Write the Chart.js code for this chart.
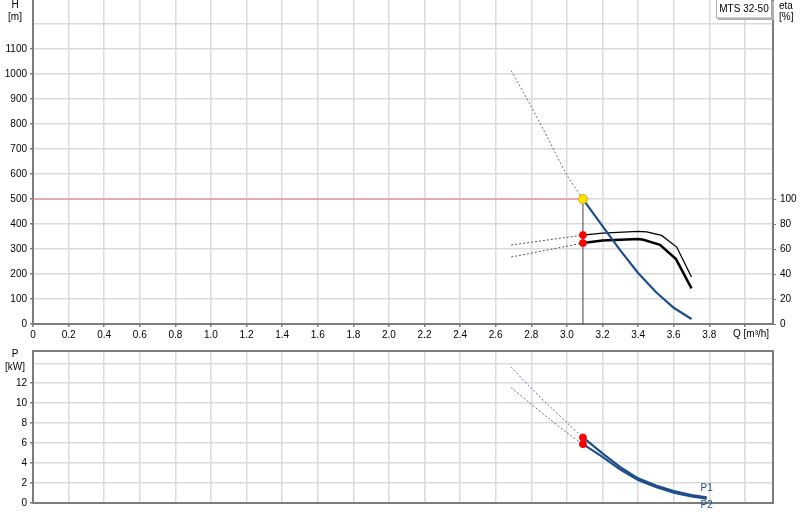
<!DOCTYPE html>
<html>
<head>
<meta charset="utf-8">
<title>MTS 32-50 pump curves</title>
<script src="https://cdn.jsdelivr.net/npm/chart.js@4.4.1/dist/chart.umd.min.js"></script>
<style>
    body { margin: 0; background: #fff; }
    #wrap { position: relative; width: 800px; height: 520px; overflow: hidden; }
    canvas { position: absolute; left: 0; }
    #headChart { top: 0; }
    #powerChart { top: 345px; }
</style>
</head>
<body>
<div id="wrap">
    <canvas id="headChart" width="800" height="345"></canvas>
    <canvas id="powerChart" width="800" height="175"></canvas>
</div>
<script>
// Head curve H(Q), solid part and dotted extension
const headQ = [3.09, 3.2, 3.3, 3.4, 3.5, 3.6, 3.7];
const headM = [500, 392, 295, 204, 128, 65, 20];
const headExtQ = [2.687, 2.8, 2.9, 3.0, 3.09];
const headExtM = [1014, 870, 734, 597, 500];

// Efficiency curves (eta, %)
const eta1Q = [3.09, 3.2, 3.4, 3.448, 3.532, 3.617, 3.7];
const eta1 = [71.2, 72.8, 74.1, 73.8, 70.9, 61.6, 37.6];
const eta2Q = [3.09, 3.2, 3.4, 3.43, 3.523, 3.613, 3.7];
const eta2 = [64.8, 66.9, 68.0, 67.4, 63.4, 52.0, 28.5];
const etaExtQ = [2.687, 3.09];
const eta1Ext = [63.2, 71.2];
const eta2Ext = [53.6, 64.8];

// Power curves P1 / P2 (kW)
const powerQ = [3.09, 3.2, 3.3, 3.4, 3.5, 3.6, 3.7, 3.785];
const p1 = [6.57, 4.97, 3.6, 2.47, 1.75, 1.2, 0.8, 0.57];
const p2 = [5.9, 4.63, 3.35, 2.3, 1.6, 1.03, 0.65, 0.43];
const powerExtQ = [2.687, 2.8, 2.9, 3.0, 3.09];
const p1Ext = [13.6, 11.5, 9.75, 8.05, 6.57];
const p2Ext = [11.57, 9.9, 8.45, 7.05, 5.9];

// Duty point
const dutyQ = 3.09;
const dutyH = 500;
const dutyEta = [71.2, 64.8];
const dutyP = [6.57, 5.9];

// Ticks and their labels ('' = grid line only)
const qTicks = [0, 0.2, 0.4, 0.6, 0.8, 1.0, 1.2, 1.4, 1.6, 1.8, 2.0, 2.2, 2.4, 2.6, 2.8, 3.0, 3.2, 3.4, 3.6, 3.8, 4.0];
const qLabels = ['0', '0.2', '0.4', '0.6', '0.8', '1.0', '1.2', '1.4', '1.6', '1.8', '2.0', '2.2', '2.4', '2.6', '2.8', '3.0', '3.2', '3.4', '3.6', '3.8', ''];
const hTicks = [0, 100, 200, 300, 400, 500, 600, 700, 800, 900, 1000, 1100, 1200];
const hLabels = ['0', '100', '200', '300', '400', '500', '600', '700', '800', '900', '1000', '1100', ''];
const etaTicks = [0, 20, 40, 60, 80, 100];
const etaLabels = ['0', '20', '40', '60', '80', '100'];
const pTicks = [0, 2, 4, 6, 8, 10, 12, 14];
const pLabels = ['0', '2', '4', '6', '8', '10', '12', ''];

// Axis ranges
const qMax = 4.158;
const hMax = 1297;
const etaMax = 259.4;
const pMax = 15.23;

const pumpName = 'MTS 32-50';

const BLUE = '#1d4e89';
const GRID = '#dadada';
const AXIS = '#7c7c7c';
const FONT = "'Liberation Sans', Arial, sans-serif";

Chart.defaults.font.family = FONT;
Chart.defaults.font.size = 10;
Chart.defaults.color = '#000';

// Zip two arrays into {x, y} points
function toPoints(xs, ys) {
    return xs.map((x, i) => ({ x: x, y: ys[i] }));
}

function line(points, color, width, extra) {
    return Object.assign({
        type: 'line',
        data: points,
        borderColor: color,
        borderWidth: width,
        pointRadius: 0,
        fill: false,
        tension: 0
    }, extra || {});
}

function dots(points, fill, border, radius) {
    return {
        type: 'scatter',
        data: points,
        showLine: false,
        pointRadius: radius,
        pointBackgroundColor: fill,
        pointBorderColor: border,
        pointBorderWidth: 1,
        order: 0
    };
}

// Fixed axis size, no automatic label padding
function fixSize(prop, value) {
    return s => {
        s[prop] = value;
        s.paddingTop = 0;
        s.paddingBottom = 0;
        s.paddingLeft = 0;
        s.paddingRight = 0;
    };
}

function useTicks(values) {
    return s => { s.ticks = values.map(v => ({ value: v })); };
}

// Writes unit labels and other loose texts on the canvas
function textPlugin(id, items) {
    return {
        id: id,
        afterDraw(chart) {
            const ctx = chart.ctx;
            ctx.save();
            ctx.font = '10px ' + FONT;
            ctx.textBaseline = 'middle';
            items(chart).forEach(t => {
                ctx.fillStyle = t.color || '#000';
                ctx.textAlign = t.align || 'center';
                ctx.fillText(t.text, t.x, t.y);
            });
            ctx.restore();
        }
    };
}

// Pump name box in the top right corner
const nameBoxPlugin = {
    id: 'nameBox',
    afterDraw(chart) {
        const ctx = chart.ctx;
        ctx.save();
        ctx.fillStyle = '#b0b0b0';
        ctx.fillRect(718, 1, 56, 19);
        ctx.fillStyle = '#fff';
        ctx.fillRect(716, -1, 56, 19);
        ctx.strokeStyle = '#a8a8a8';
        ctx.lineWidth = 1;
        ctx.strokeRect(716.5, -1, 55, 19);
        ctx.fillStyle = '#000';
        ctx.font = '10px ' + FONT;
        ctx.textAlign = 'center';
        ctx.textBaseline = 'middle';
        ctx.fillText(pumpName, 744, 9);
        ctx.restore();
    }
};

// Frame around the power plot
const framePlugin = {
    id: 'frame',
    afterDraw(chart) {
        const a = chart.chartArea;
        const ctx = chart.ctx;
        ctx.save();
        ctx.strokeStyle = AXIS;
        ctx.lineWidth = 2;
        ctx.strokeRect(a.left, a.top, a.right - a.left, a.bottom - a.top);
        ctx.restore();
    }
};

function xAxis(height, showLabels) {
    return {
        type: 'linear',
        min: 0,
        max: qMax,
        afterFit: fixSize('height', height),
        afterBuildTicks: useTicks(qTicks),
        grid: {
            color: GRID,
            lineWidth: 1.5,
            drawTicks: showLabels,
            tickLength: 3,
            tickColor: AXIS
        },
        border: { display: true, color: AXIS, width: 2 },
        ticks: {
            display: showLabels,
            autoSkip: false,
            maxRotation: 0,
            padding: 2,
            callback: (v, i) => qLabels[i]
        }
    };
}

function leftAxis(max, values, labels) {
    return {
        type: 'linear',
        position: 'left',
        min: 0,
        max: max,
        afterFit: fixSize('width', 33),
        afterBuildTicks: useTicks(values),
        grid: {
            color: GRID,
            lineWidth: 1.5,
            tickLength: 3,
            tickColor: c => c.index !== undefined && labels[c.index] === '' ? 'rgba(0,0,0,0)' : AXIS
        },
        border: { display: true, color: AXIS, width: 2 },
        ticks: {
            autoSkip: false,
            padding: 3,
            callback: (v, i) => labels[i]
        }
    };
}

function createHeadChart() {
    const ctx = document.getElementById('headChart').getContext('2d');
    return new Chart(ctx, {
        data: {
            datasets: [
                dots([{ x: dutyQ, y: dutyH }], '#ffe600', '#f2a000', 4.5),
                Object.assign(dots(toPoints([dutyQ, dutyQ], dutyEta), '#ff0000', '#ff0000', 3.5), { yAxisID: 'eta' }),
                line(toPoints(headQ, headM), BLUE, 2.2, { order: 1 }),
                line(toPoints(eta1Q, eta1), '#000', 1.3, { yAxisID: 'eta', order: 1 }),
                line(toPoints(eta2Q, eta2), '#000', 2.5, { yAxisID: 'eta', order: 1 }),
                line(toPoints(headExtQ, headExtM), '#5b6f8f', 1, { borderDash: [2, 2], tension: 0.3, order: 2 }),
                line(toPoints(etaExtQ, eta1Ext), '#555', 1, { borderDash: [2, 2], yAxisID: 'eta', order: 2 }),
                line(toPoints(etaExtQ, eta2Ext), '#555', 1, { borderDash: [2, 2], yAxisID: 'eta', order: 2 }),
                // duty point guide lines
                line(toPoints([0, dutyQ], [dutyH, dutyH]), '#e87a7a', 1, { order: 3 }),
                line(toPoints([dutyQ, dutyQ], [0, dutyH]), '#444', 1, { order: 3 })
            ]
        },
        options: {
            responsive: false,
            animation: false,
            events: [],
            layout: { padding: 0, autoPadding: false },
            plugins: { legend: { display: false }, tooltip: { enabled: false } },
            scales: {
                x: xAxis(21, true),
                y: leftAxis(hMax, hTicks, hLabels),
                eta: {
                    type: 'linear',
                    position: 'right',
                    min: 0,
                    max: etaMax,
                    afterFit: fixSize('width', 27),
                    afterBuildTicks: useTicks(etaTicks),
                    grid: {
                        drawOnChartArea: false,
                        tickLength: 3,
                        tickColor: AXIS
                    },
                    border: { display: true, color: AXIS, width: 2 },
                    ticks: {
                        autoSkip: false,
                        padding: 4,
                        callback: (v, i) => etaLabels[i]
                    }
                }
            }
        },
        plugins: [
            nameBoxPlugin,
            textPlugin('headTexts', () => [
                { text: 'H', x: 15, y: 5 },
                { text: '[m]', x: 15, y: 17 },
                { text: 'eta', x: 779, y: 6, align: 'left' },
                { text: '[%]', x: 779, y: 17, align: 'left' },
                { text: 'Q [m\u00b3/h]', x: 733, y: 334, align: 'left' }
            ])
        ]
    });
}

function createPowerChart() {
    const ctx = document.getElementById('powerChart').getContext('2d');
    return new Chart(ctx, {
        data: {
            datasets: [
                dots(toPoints([dutyQ, dutyQ], dutyP), '#ff0000', '#ff0000', 3.5),
                line(toPoints(powerQ, p1), BLUE, 2.2, { order: 1 }),
                line(toPoints(powerQ, p2), BLUE, 2.2, { order: 1 }),
                line(toPoints(powerExtQ, p1Ext), '#5b6f8f', 1, { borderDash: [2, 2], tension: 0.3, order: 2 }),
                line(toPoints(powerExtQ, p2Ext), '#5b6f8f', 1, { borderDash: [2, 2], tension: 0.3, order: 2 })
            ]
        },
        options: {
            responsive: false,
            animation: false,
            events: [],
            layout: { padding: { top: 6, right: 27, left: 0, bottom: 0 }, autoPadding: false },
            plugins: { legend: { display: false }, tooltip: { enabled: false } },
            scales: {
                x: xAxis(17, false),
                y: leftAxis(pMax, pTicks, pLabels)
            }
        },
        plugins: [
            framePlugin,
            textPlugin('powerTexts', chart => {
                const xs = chart.scales.x;
                const ys = chart.scales.y;
                const endX = xs.getPixelForValue(powerQ[powerQ.length - 1]);
                return [
                    { text: 'P', x: 15, y: 9 },
                    { text: '[kW]', x: 15, y: 22 },
                    { text: 'P1', x: endX - 6, y: ys.getPixelForValue(p1[p1.length - 1]) - 9, align: 'left', color: BLUE },
                    { text: 'P2', x: endX - 6, y: ys.getPixelForValue(p2[p2.length - 1]) + 7, align: 'left', color: BLUE }
                ];
            })
        ]
    });
}

createHeadChart();
createPowerChart();
</script>
</body>
</html>
